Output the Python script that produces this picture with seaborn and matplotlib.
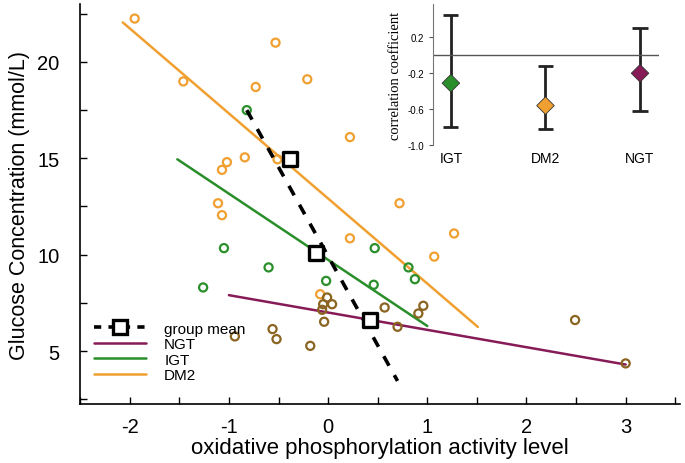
import numpy as np
import pandas as pd
import matplotlib
matplotlib.use("Agg")
import matplotlib.pyplot as plt
from matplotlib.lines import Line2D
import seaborn as sns

sns.set_theme(style="white")
plt.rcParams['font.family'] = ['Liberation Sans', 'DejaVu Sans']
plt.rcParams['axes.unicode_minus'] = False
plt.rcParams['text.color'] = 'black'
plt.rcParams['axes.labelcolor'] = 'black'
plt.rcParams['xtick.color'] = 'black'
plt.rcParams['ytick.color'] = 'black'

# ---------------- data ----------------
dm2_x = [-1.95, -1.46, -0.53, -0.73, -0.21, 0.22, -0.84, -1.02, -1.07, -0.51,
         -1.11, -1.07, 0.72, 1.27, 0.22, 1.07, -0.08]
dm2_y = [22.25, 18.99, 21.0, 18.7, 19.1, 16.1, 15.05, 14.8, 14.4, 14.95,
         12.67, 12.05, 12.67, 11.1, 10.85, 9.9, 7.95]

igt_x = [-0.82, -1.05, -0.60, -1.26, 0.47, -0.02, 0.46, 0.81, 0.875]
igt_y = [17.5, 10.34, 9.34, 8.30, 10.34, 8.64, 8.44, 9.34, 8.73]

ngt_x = [-0.01, -0.05, 0.04, -0.06, -0.04, 0.57, 0.96, 0.91, 0.70, -0.94,
         -0.56, -0.52, -0.18, 2.49, 3.0]
ngt_y = [7.78, 7.43, 7.43, 7.14, 6.52, 7.26, 7.35, 6.95, 6.26, 5.76,
         6.14, 5.62, 5.27, 6.61, 4.36]

# regression lines (end points)
dm2_line_x = [-2.07, 1.51]
dm2_line_y = [22.05, 6.25]
igt_line_x = [-1.52, 1.0]
igt_line_y = [14.95, 6.3]
ngt_line_x = [-1.0, 3.0]
ngt_line_y = [7.9, 4.3]

# group means
mean_x = [-0.38, -0.12, 0.42]
mean_y = [14.95, 10.08, 6.6]
mean_line_x = [-0.82, 0.70]
mean_line_y = [17.5, 3.45]

# inset: correlation coefficients
groups = ["IGT", "DM2", "NGT"]
corr = [-0.31, -0.56, -0.20]
corr_lo = [-0.80, -0.82, -0.62]
corr_hi = [0.45, -0.12, 0.30]

# ---------------- style ----------------
c_dm2 = "#F0A030"
c_igt = "#2A8F2A"
c_ngt_line = "#861B57"
c_ngt_pt = "#8A6420"

fig = plt.figure(figsize=(6.85, 4.64), dpi=100)
ax = fig.add_axes([0.117, 0.127, 0.876, 0.862])

pts = pd.DataFrame({
    "x": dm2_x + igt_x + ngt_x,
    "y": dm2_y + igt_y + ngt_y,
    "g": ["DM2"] * len(dm2_x) + ["IGT"] * len(igt_x) + ["NGT"] * len(ngt_x),
})
pal = {"DM2": c_dm2, "IGT": c_igt, "NGT": c_ngt_pt}
for g in ["DM2", "IGT", "NGT"]:
    sub = pts[pts.g == g]
    ax.scatter(sub.x, sub.y, s=34, facecolors="none", edgecolors=pal[g],
               linewidths=1.6, marker="o", zorder=3)

sns.lineplot(x=dm2_line_x, y=dm2_line_y, ax=ax, color=c_dm2, lw=1.8, zorder=2)
sns.lineplot(x=igt_line_x, y=igt_line_y, ax=ax, color=c_igt, lw=1.8, zorder=2)
sns.lineplot(x=ngt_line_x, y=ngt_line_y, ax=ax, color=c_ngt_line, lw=1.8, zorder=2)
ax.plot(mean_line_x, mean_line_y, color="black", lw=2.6, ls=(0, (3, 3)), zorder=4)
ax.scatter(mean_x, mean_y, s=110, marker="s", facecolors="white",
           edgecolors="black", linewidths=2.4, zorder=5)

ax.set_xlim(-2.5, 3.55)
ax.set_ylim(2.25, 23.0)
ax.set_xticks([-2, -1, 0, 1, 2, 3])
ax.set_xticks(np.arange(-2.5, 3.6, 0.5), minor=True)
ax.set_yticks([5, 10, 15, 20])
ax.set_yticks(np.arange(2.5, 23, 2.5), minor=True)
ax.tick_params(which="both", direction="in", length=5, width=1, color="black",
               labelsize=14.5, bottom=True, left=True)
ax.tick_params(axis="x", pad=9)
ax.tick_params(axis="y", pad=15)
for s in ["top", "right"]:
    ax.spines[s].set_visible(False)
for s in ["left", "bottom"]:
    ax.spines[s].set_color("black")
    ax.spines[s].set_linewidth(1.2)
ax.set_xlabel("oxidative phosphorylation activity level", fontsize=16, labelpad=1)
ax.set_ylabel("Glucose Concentration (mmol/L)", fontsize=15.5, labelpad=5)

handles = [
    Line2D([], [], color="black", lw=2.6, ls=(0, (2, 2)), marker="s",
           markersize=10, markerfacecolor="white", markeredgewidth=2.4),
    Line2D([], [], color=c_ngt_line, lw=1.8),
    Line2D([], [], color=c_igt, lw=1.8),
    Line2D([], [], color=c_dm2, lw=1.8),
]
ax.legend(handles, ["group mean", "NGT", "IGT", "DM2"], loc="lower left",
          bbox_to_anchor=(0.0, 0.02), frameon=False, fontsize=11,
          handlelength=3.4, labelspacing=0.1, handletextpad=1.2)

# ---------------- inset ----------------
ins = fig.add_axes([0.632, 0.685, 0.330, 0.304])
xi = np.arange(len(groups))
ins.vlines(xi, corr_lo, corr_hi, color="#222222", lw=2)
ins.hlines(corr_lo, xi - 0.08, xi + 0.08, color="#222222", lw=2)
ins.hlines(corr_hi, xi - 0.08, xi + 0.08, color="#222222", lw=2)
ins.axhline(0, color="#555555", lw=1)
sns.scatterplot(x=xi, y=corr, hue=groups, palette=[c_igt, c_dm2, c_ngt_line],
                marker="D", s=80, edgecolor="#333333", linewidth=0.6,
                legend=False, ax=ins, zorder=5)
ins.set_xlim(-0.19, 2.2)
ins.set_ylim(-1.0, 0.57)
ins.set_yticks([0.2, -0.2, -0.6, -1.0])
ins.set_yticklabels(["0.2", "-0.2", "-0.6", "-1.0"])
ins.set_xticks(xi)
ins.set_xticklabels(groups)
ins.tick_params(axis="y", direction="out", length=3, width=0.8, labelsize=7,
                left=True, color="#555555")
ins.tick_params(axis="x", length=0, labelsize=10, pad=4)
for s in ["top", "right", "bottom"]:
    ins.spines[s].set_visible(False)
ins.spines["left"].set_color("#777777")
ins.spines["left"].set_linewidth(0.8)
ins.set_ylabel("correlation coefficient", fontsize=10.5,
               family=["Liberation Serif", "DejaVu Serif"], labelpad=4)
ins.patch.set_alpha(0)

fig.savefig("out.png", dpi=100)
